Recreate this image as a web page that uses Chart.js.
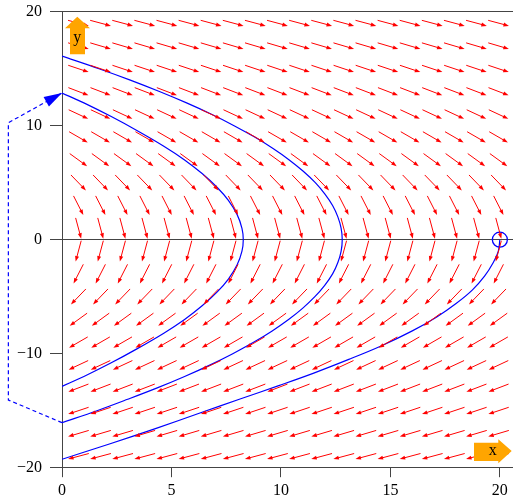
<!DOCTYPE html>
<html><head><meta charset="utf-8">
<script src="https://cdn.jsdelivr.net/npm/chart.js@4"></script>
<style>html,body{margin:0;padding:0;background:#fff}</style>
</head><body>
<canvas id="c" width="513" height="497"></canvas>
<script>
/* ---- data ---- */
const xTicks = [0,5,10,15,20];
const yTicks = [-20,-10,0,10,20];
// direction field grid (arrow centres) and screen angle of arrows per row (deg, clockwise from +x)
const fieldCols = [0.75,1.76,2.77,3.78,4.79,5.8,6.81,7.82,8.83,9.84,10.85,11.86,12.87,13.88,14.89,15.9,16.91,17.92,18.93,19.94];
const fieldRows = [19,17,15,13,11,9,7,5,3,1,-1,-3,-5,-7,-9,-11,-13,-15,-17,-19];
const rowAngle  = [15,16.5,18.5,21,25,30,36,46,63,75,105,117,134,144,150,155,159,161.5,163.5,165];
// trajectories [x, y]
const curveOuter = [[0,16.1],[1.69,15],[3.12,14],[4.45,13],[5.69,12],[6.83,11],[7.86,10],[8.8,9],[9.64,8],[10.38,7],[11.02,6],[11.57,5],[12.01,4],[12.36,3],[12.6,2],[12.75,1],[12.8,0],
                    [12.75,-1],[12.6,-2],[12.36,-3],[12.0,-4],[11.55,-5],[11.0,-6],[10.35,-7],[9.6,-8],[8.75,-9],[7.8,-10],[6.75,-11],[5.6,-12],[4.35,-13],[3.0,-14],[1.6,-15],[0,-16.05]];
const curveInner = [[0,12.87],[1.0,12.0],[2.25,10.8],[3.4,9.6],[4.65,8.2],[5.6,7.0],[6.4,5.8],[7.08,4.6],[7.6,3.45],[8.0,2.2],[8.22,1.0],[8.28,0],[8.22,-1.0],[8.0,-2.2],[7.6,-3.45],[7.08,-4.6],[6.4,-5.8],[5.6,-7.0],[4.65,-8.2],[3.4,-9.6],[2.25,-10.8],[1.0,-12.0],[0,-12.87]];
const curveDrop  = [[20,0],[19.93,-1],[19.7,-2],[19.3,-3.2],[18.75,-4.4],[18.0,-5.6],[17.1,-6.8],[16.0,-8.0],[14.6,-9.3],[13.1,-10.5],[11.5,-11.7],[9.9,-12.8],[8.1,-14.0],[6.3,-15.2],[4.3,-16.55],[2.2,-17.9],[0,-19.26]];
const bounce     = [[0,-16.05],[-2.45,-14.06],[-2.45,10.26],[0,12.87]];
const startPt    = [[20,0]];

const ARROW_LEN = 21.5, AXIS = '#444', FONT = {family:'"Liberation Serif","DejaVu Serif",serif', size:16};
const pts = a => a.map(([x,y])=>({x,y}));
const fmt = v => v<0 ? '\u2212'+Math.abs(v) : String(v);
const noPad = s => { s.paddingTop = s.paddingBottom = s.paddingLeft = s.paddingRight = 0; };

function head(ctx,x0,y0,x1,y1,len,half){
  const a=Math.atan2(y1-y0,x1-x0), c=Math.cos(a), s=Math.sin(a);
  ctx.beginPath(); ctx.moveTo(x1,y1);
  ctx.lineTo(x1-len*c+half*s, y1-len*s-half*c);
  ctx.lineTo(x1-len*c-half*s, y1-len*s+half*c);
  ctx.closePath(); ctx.fill();
}

const fieldPlugin = {
  id:'field',
  afterDatasetsDraw(chart){
    const {ctx, chartArea:ca, scales:{x, y}} = chart;
    ctx.save();
    // red direction field
    ctx.strokeStyle = ctx.fillStyle = '#ff0000'; ctx.lineWidth = 1;
    fieldRows.forEach((yv,i)=>{
      const a = rowAngle[i]*Math.PI/180, dx = Math.cos(a)*ARROW_LEN/2, dy = Math.sin(a)*ARROW_LEN/2;
      fieldCols.forEach(xv=>{
        const cx = x.getPixelForValue(xv), cy = y.getPixelForValue(yv);
        ctx.beginPath(); ctx.moveTo(cx-dx,cy-dy); ctx.lineTo(cx+dx-Math.cos(a)*3,cy+dy-Math.sin(a)*3); ctx.stroke();
        head(ctx,cx-dx,cy-dy,cx+dx,cy+dy,5.5,2);
      });
    });
    // arrowhead at the end of the dashed bounce jump
    const n = bounce.length;
    ctx.fillStyle = '#0000ff';
    head(ctx, x.getPixelForValue(bounce[n-2][0]), y.getPixelForValue(bounce[n-2][1]),
              x.getPixelForValue(bounce[n-1][0]), y.getPixelForValue(bounce[n-1][1]), 18, 5.5);
    // orange axis markers
    ctx.fillStyle = '#ffa500';
    const L = ca.left, T = ca.top, R = ca.right, B = ca.bottom;
    ctx.beginPath();
    ctx.moveTo(L+15.3,T+5); ctx.lineTo(L+28,T+16.6); ctx.lineTo(L+23,T+16.6); ctx.lineTo(L+23,T+42.6);
    ctx.lineTo(L+8,T+42.6); ctx.lineTo(L+8,T+16.6); ctx.lineTo(L+3,T+16.6); ctx.closePath(); ctx.fill();
    ctx.beginPath();
    ctx.moveTo(R-1.3,B-16.7); ctx.lineTo(R-14.7,B-28.4); ctx.lineTo(R-14.7,B-25); ctx.lineTo(R-39,B-25);
    ctx.lineTo(R-39,B-6.7); ctx.lineTo(R-14.7,B-6.7); ctx.lineTo(R-14.7,B-4.4); ctx.closePath(); ctx.fill();
    ctx.fillStyle = '#000'; ctx.font = `${FONT.size}px ${FONT.family}`;
    ctx.textAlign = 'center'; ctx.textBaseline = 'middle';
    ctx.fillText('y', L+15.3, T+26);
    ctx.fillText('x', R-20.3, B-17);
    ctx.restore();
  }
};

const lineDs = d => ({data:pts(d), showLine:true, borderColor:'#0000ff', borderWidth:1.2, pointRadius:0, tension:0.35, fill:false});

new Chart(document.getElementById('c'), {
  type:'scatter',
  data:{ datasets:[
    lineDs(curveOuter), lineDs(curveInner), lineDs(curveDrop),
    {...lineDs(bounce), tension:0, borderDash:[4,3], clip:false},
    {data:pts(startPt), showLine:false, pointRadius:7.5, pointBorderWidth:1.3, pointBorderColor:'#0000ff', pointBackgroundColor:'rgba(0,0,0,0)'}
  ]},
  options:{
    responsive:false, animation:false, events:[],
    layout:{autoPadding:false, padding:{top:11.7, right:0, left:0, bottom:0}},
    plugins:{legend:{display:false}, tooltip:{enabled:false}},
    scales:{
      x:{ type:'linear', min:0, max:20.6,
          afterBuildTicks:s=>{ s.ticks = xTicks.map(v=>({value:v})); },
          afterFit:s=>{ s.height = 29.3; noPad(s); },
          ticks:{ font:FONT, color:'#000', padding:4, maxRotation:0, callback:fmt },
          grid:{ drawOnChartArea:false, tickLength:9.5, tickColor:AXIS, tickWidth:1 },
          border:{ color:AXIS, width:1 } },
      y:{ type:'linear', min:-20, max:20,
          afterBuildTicks:s=>{ s.ticks = yTicks.map(v=>({value:v})); },
          afterFit:s=>{ s.width = 62; noPad(s); },
          ticks:{ font:FONT, color:'#000', padding:8, callback:fmt },
          grid:{ color:c=>[20,0,-20].includes(c.tick && c.tick.value) ? AXIS : 'rgba(0,0,0,0)', lineWidth:1, tickLength:12, tickColor:AXIS, tickWidth:1 },
          border:{ color:AXIS, width:1 } }
    }
  },
  plugins:[fieldPlugin]
});
</script>
</body></html>
